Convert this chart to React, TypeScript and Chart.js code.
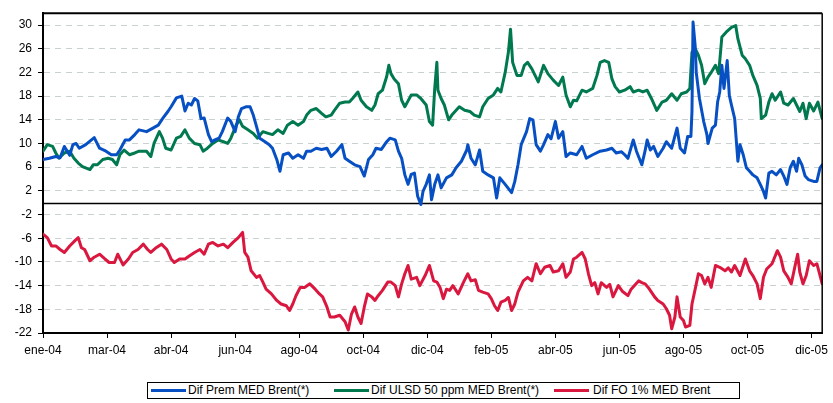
import { useEffect, useRef } from 'react';
import { Chart, registerables } from 'chart.js';

Chart.register(...registerables);

// Days since 1 Jan 2004 (x), spread in $/t (y)
const seriesNames = ['Dif Prem MED Brent(*)', 'Dif ULSD 50 ppm MED Brent(*)', 'Dif FO 1% MED Brent'];
const seriesColors = ['#0650c4', '#00794f', '#d9173f'];

const tickDays = [0, 60, 120, 180, 240, 300, 360, 420, 480, 540, 600, 660, 720];
const tickLabels = ['ene-04', 'mar-04', 'abr-04', 'jun-04', 'ago-04', 'oct-04', 'dic-04', 'feb-05', 'abr-05', 'jun-05', 'ago-05', 'oct-05', 'dic-05'];
const yTicks = [-22, -18, -14, -10, -6, -2, 2, 6, 10, 14, 18, 22, 26, 30];

const premDay = [0, 6, 12, 16, 20, 25, 28, 31, 34, 40, 48, 53, 59, 64, 69, 72, 77, 81, 86, 90, 97, 103, 108, 112, 117, 120, 125, 130, 133, 136, 139, 142, 145, 148, 151, 155, 158, 161, 165, 168, 173, 176, 180, 183, 186, 190, 194, 197, 200, 203, 208, 212, 215, 219, 222, 225, 230, 234, 239, 244, 247, 251, 256, 261, 266, 270, 275, 280, 283, 287, 292, 297, 301, 305, 309, 312, 317, 322, 325, 330, 333, 336, 339, 342, 345, 348, 351, 354, 356, 359, 362, 364, 367, 370, 373, 378, 383, 387, 392, 397, 398, 401, 405, 409, 412, 417, 422, 425, 428, 433, 439, 442, 445, 448, 453, 456, 459, 462, 466, 469, 473, 476, 480, 483, 487, 490, 494, 500, 505, 509, 515, 522, 528, 533, 537, 542, 545, 548, 553, 556, 561, 564, 566, 569, 572, 576, 581, 584, 589, 594, 597, 601, 604, 607, 608, 609, 611, 612, 615, 619, 622, 623, 627, 630, 632, 634, 636, 638, 641, 643, 645, 648, 651, 653, 656, 659, 662, 665, 669, 672, 675, 677, 680, 683, 687, 691, 694, 697, 700, 703, 706, 708, 711, 714, 717, 722, 725, 728, 730];
const premVal = [7.3, 7.5, 7.8, 7.6, 9.5, 8.0, 9.8, 10.0, 9.2, 9.8, 11.0, 9.2, 8.7, 8.1, 8.1, 8.9, 10.6, 10.6, 11.5, 12.3, 12.0, 12.6, 13.1, 14.2, 15.4, 16.2, 17.7, 18.0, 15.5, 16.8, 16.5, 17.6, 17.2, 14.2, 14.3, 11.5, 10.3, 10.6, 10.9, 12.0, 14.3, 13.7, 12.0, 14.5, 15.9, 16.2, 16.2, 14.8, 12.9, 10.9, 10.3, 9.8, 9.2, 7.3, 5.3, 8.1, 8.4, 7.5, 8.1, 7.5, 8.7, 8.7, 9.2, 9.0, 9.2, 7.8, 8.7, 9.8, 7.5, 7.0, 6.4, 6.1, 4.5, 7.3, 8.1, 9.2, 9.0, 10.3, 10.9, 10.6, 8.7, 7.5, 4.7, 3.1, 4.8, 5.0, 1.1, -0.3, 1.9, 3.1, 4.7, 0.5, 3.1, 4.7, 2.5, 4.2, 4.7, 5.9, 7.0, 8.9, 9.8, 7.5, 6.4, 8.9, 5.3, 4.7, 4.2, 0.8, 4.2, 3.1, 1.7, 3.6, 6.4, 9.8, 12.0, 14.2, 14.0, 9.8, 8.7, 9.8, 11.5, 10.8, 13.7, 10.9, 12.0, 7.8, 8.4, 8.1, 9.5, 7.5, 8.1, 8.7, 8.9, 9.2, 8.4, 8.6, 8.1, 7.5, 10.6, 8.7, 6.4, 8.7, 10.6, 8.9, 9.5, 7.8, 9.2, 10.3, 9.2, 12.6, 9.2, 8.4, 11.2, 11.2, 15.4, 30.5, 26.5, 22.0, 17.6, 13.7, 11.5, 10.0, 12.6, 13.1, 17.0, 18.7, 23.2, 19.3, 24.0, 18.1, 16.5, 14.2, 7.0, 9.8, 8.1, 5.9, 5.3, 4.7, 4.2, 3.1, 1.9, 0.8, 5.0, 5.3, 4.7, 5.6, 4.5, 3.1, 5.9, 7.0, 5.3, 7.5, 6.4, 4.5, 3.9, 3.6, 3.6, 5.9, 6.4];

const ulsdDay = [0, 4, 9, 12, 15, 20, 25, 29, 33, 37, 44, 47, 51, 56, 61, 65, 69, 72, 76, 81, 86, 90, 97, 101, 104, 109, 112, 115, 120, 125, 129, 133, 137, 142, 147, 150, 154, 159, 164, 169, 173, 176, 181, 184, 187, 192, 197, 201, 206, 211, 215, 220, 225, 229, 234, 239, 244, 247, 251, 256, 261, 265, 270, 273, 278, 283, 287, 290, 295, 298, 303, 308, 311, 314, 318, 322, 324, 326, 329, 333, 336, 339, 342, 345, 350, 354, 359, 362, 365, 367, 369, 370, 373, 376, 380, 383, 386, 390, 395, 400, 404, 409, 412, 417, 422, 426, 429, 433, 436, 438, 440, 444, 448, 451, 454, 458, 461, 464, 469, 473, 478, 483, 487, 490, 494, 497, 500, 505, 509, 515, 519, 522, 526, 530, 533, 536, 540, 545, 550, 553, 558, 562, 566, 570, 575, 580, 584, 589, 594, 598, 603, 606, 608, 611, 614, 617, 620, 623, 626, 630, 633, 636, 640, 645, 649, 651, 655, 658, 662, 665, 669, 672, 673, 677, 680, 683, 686, 691, 694, 698, 703, 706, 709, 712, 715, 718, 722, 726, 730];
const ulsdVal = [8.7, 9.8, 9.5, 8.4, 7.5, 8.4, 8.7, 7.5, 6.7, 6.1, 5.6, 6.4, 6.4, 7.3, 7.5, 7.3, 6.4, 8.1, 8.9, 8.1, 8.4, 8.7, 8.7, 7.8, 10.0, 12.0, 10.9, 9.2, 8.9, 10.9, 11.2, 12.3, 10.9, 10.0, 9.8, 8.7, 9.2, 10.0, 10.6, 10.3, 10.0, 10.9, 13.1, 14.0, 12.9, 12.3, 11.7, 10.9, 12.0, 11.7, 11.5, 12.3, 11.7, 13.1, 13.7, 13.1, 13.7, 14.8, 15.6, 15.9, 15.1, 14.5, 14.8, 15.6, 16.8, 17.0, 17.0, 17.6, 18.7, 17.3, 16.2, 15.6, 16.5, 18.4, 19.0, 21.3, 23.2, 21.8, 20.9, 20.1, 17.3, 16.2, 17.2, 18.2, 18.2, 17.6, 16.5, 13.7, 13.1, 19.3, 23.7, 19.0, 17.6, 16.5, 14.0, 14.8, 15.4, 16.2, 15.6, 15.4, 14.8, 14.5, 16.2, 17.6, 18.2, 19.3, 18.7, 22.0, 25.4, 29.3, 23.7, 21.5, 21.5, 23.2, 23.7, 22.6, 21.5, 20.4, 23.2, 21.8, 20.7, 19.8, 21.2, 18.2, 16.2, 17.3, 17.2, 19.0, 18.7, 19.3, 21.5, 23.7, 24.0, 23.7, 20.9, 19.6, 18.7, 19.0, 19.6, 18.7, 19.0, 18.7, 19.0, 17.6, 15.6, 17.0, 17.3, 18.4, 17.3, 18.4, 18.7, 19.3, 25.4, 26.0, 24.9, 23.2, 20.1, 21.2, 22.0, 23.2, 21.8, 28.0, 28.8, 29.6, 29.9, 27.7, 24.9, 24.3, 23.2, 21.5, 19.8, 17.6, 14.2, 14.8, 17.0, 18.4, 17.3, 18.7, 16.8, 16.5, 17.6, 16.5, 15.4, 16.8, 14.2, 16.8, 15.5, 17.0, 14.2];

const foDay = [0, 4, 8, 12, 16, 20, 25, 30, 33, 36, 39, 44, 48, 53, 58, 62, 67, 70, 75, 80, 84, 89, 94, 98, 101, 106, 111, 116, 120, 123, 128, 133, 137, 142, 147, 151, 155, 159, 164, 169, 173, 178, 183, 187, 189, 192, 195, 200, 203, 206, 209, 214, 219, 223, 228, 231, 234, 237, 241, 245, 250, 255, 259, 262, 266, 269, 273, 278, 283, 286, 289, 292, 295, 298, 301, 304, 308, 311, 314, 318, 323, 326, 330, 333, 336, 339, 342, 345, 350, 353, 358, 362, 366, 369, 372, 375, 378, 381, 384, 389, 394, 398, 401, 405, 408, 412, 417, 420, 423, 426, 429, 433, 436, 439, 442, 445, 450, 454, 458, 462, 466, 470, 475, 478, 483, 487, 490, 494, 497, 500, 505, 508, 511, 514, 517, 520, 523, 528, 531, 534, 539, 543, 548, 551, 555, 558, 561, 564, 567, 570, 573, 576, 581, 584, 587, 589, 592, 594, 597, 600, 602, 606, 608, 611, 614, 617, 620, 623, 626, 630, 634, 639, 642, 645, 648, 653, 658, 662, 665, 669, 672, 675, 678, 683, 688, 691, 694, 698, 701, 705, 707, 709, 712, 715, 718, 722, 725, 728, 730];
const foVal = [-5.3, -5.9, -7.3, -7.3, -7.9, -8.4, -7.3, -6.4, -5.9, -7.6, -7.9, -9.8, -9.2, -8.7, -9.5, -10.1, -10.1, -8.7, -10.5, -9.5, -8.4, -7.9, -7.0, -7.9, -8.4, -7.6, -7.0, -7.9, -9.5, -10.1, -9.5, -9.5, -9.0, -8.4, -7.9, -8.7, -7.0, -6.7, -7.3, -7.0, -7.6, -6.7, -5.9, -5.0, -8.4, -9.2, -11.5, -12.6, -12.3, -13.4, -14.6, -15.4, -16.5, -17.1, -17.4, -18.2, -17.1, -15.7, -14.3, -14.3, -13.7, -14.6, -15.4, -15.9, -17.6, -19.3, -19.3, -19.0, -20.1, -21.5, -18.8, -17.6, -19.3, -20.4, -17.6, -15.4, -15.9, -16.5, -15.7, -14.8, -13.4, -13.4, -14.0, -15.9, -13.7, -12.0, -10.6, -12.9, -12.6, -14.0, -12.3, -10.6, -13.2, -13.4, -14.3, -16.2, -14.6, -14.8, -14.0, -15.4, -13.4, -12.0, -13.2, -13.0, -14.8, -15.1, -15.4, -16.2, -17.4, -18.2, -16.8, -16.5, -16.0, -18.2, -17.1, -15.1, -13.2, -12.6, -13.2, -10.3, -12.0, -10.9, -10.6, -11.7, -11.5, -10.3, -12.6, -11.7, -9.5, -9.2, -8.4, -9.5, -12.0, -14.0, -13.5, -15.4, -13.5, -14.3, -13.8, -15.9, -14.0, -15.0, -15.7, -14.6, -13.8, -13.2, -13.5, -13.7, -14.3, -15.1, -15.9, -16.5, -17.1, -17.9, -19.0, -21.3, -19.3, -15.9, -19.3, -19.9, -21.0, -20.7, -17.1, -14.6, -12.0, -12.3, -13.7, -12.6, -14.3, -10.6, -10.9, -11.5, -11.0, -11.7, -10.6, -12.3, -9.5, -11.5, -12.3, -13.7, -16.2, -12.6, -11.2, -10.3, -8.1, -9.2, -11.5, -12.6, -13.7, -10.3, -8.7, -11.7, -13.7, -12.3, -9.8, -10.6, -10.3, -12.3, -13.7];

const toPoints = (days: number[], vals: number[]) => days.map((d, i) => ({ x: d, y: vals[i] }));

const framePlugin = {
  id: 'frame',
  beforeDatasetsDraw(chart: any) {
    const { ctx, chartArea, scales } = chart;
    const y0 = Math.round(scales.y.getPixelForValue(0)) + 0.5;
    ctx.save();
    ctx.strokeStyle = '#000';
    ctx.lineWidth = 1.5;
    ctx.beginPath();
    ctx.moveTo(chartArea.left, y0);
    ctx.lineTo(chartArea.right, y0);
    ctx.stroke();
    ctx.restore();
  },
  afterDatasetsDraw(chart: any) {
    const { ctx, chartArea } = chart;
    ctx.save();
    ctx.strokeStyle = '#000';
    ctx.lineWidth = 2;
    ctx.beginPath();
    ctx.moveTo(chartArea.left, chartArea.top);
    ctx.lineTo(chartArea.right, chartArea.top);
    ctx.stroke();
    ctx.lineWidth = 1.5;
    ctx.beginPath();
    ctx.moveTo(chartArea.right, chartArea.top);
    ctx.lineTo(chartArea.right, chartArea.bottom);
    ctx.stroke();
    ctx.restore();
  },
};

export default function App() {
  const canvasRef = useRef<HTMLCanvasElement | null>(null);

  useEffect(() => {
    document.body.style.margin = '0';
    const canvas = canvasRef.current;
    if (!canvas) return;
    const font = { family: "'Liberation Sans', Arial, sans-serif", size: 12 };
    const dataSets = [
      toPoints(premDay, premVal),
      toPoints(ulsdDay, ulsdVal),
      toPoints(foDay, foVal),
    ];
    const chart = new Chart(canvas, {
      type: 'line',
      data: {
        datasets: dataSets.map((pts, i) => ({
          label: seriesNames[i],
          data: pts,
          borderColor: seriesColors[i],
          backgroundColor: seriesColors[i],
          borderWidth: 3,
          pointRadius: 0,
          tension: 0,
          borderJoinStyle: 'round' as const,
          borderCapStyle: 'round' as const,
        })),
      },
      options: {
        animation: false,
        responsive: false,
        devicePixelRatio: 1,
        parsing: false as any,
        layout: { padding: { top: 11, right: 10, bottom: 40, left: 0 } },
        plugins: { legend: { display: false }, tooltip: { enabled: false } },
        scales: {
          x: {
            type: 'linear',
            min: 0,
            max: 730,
            afterBuildTicks: (scale: any) => {
              scale.ticks = tickDays.map((v) => ({ value: v }));
            },
            afterFit: (scale: any) => {
              scale.height = 30;
            },
            grid: {
              drawOnChartArea: false,
              drawTicks: true,
              tickLength: 5,
              tickColor: '#000',
              tickWidth: 1,
            },
            border: { display: true, color: '#000', width: 2 },
            ticks: {
              autoSkip: false,
              maxRotation: 0,
              padding: 5,
              color: '#000',
              font,
              callback: (value: any) => {
                const idx = tickDays.indexOf(Number(value));
                return idx >= 0 ? tickLabels[idx] : '';
              },
            },
          },
          y: {
            type: 'linear',
            min: -22,
            max: 32,
            afterBuildTicks: (scale: any) => {
              scale.ticks = yTicks.map((v) => ({ value: v }));
            },
            afterFit: (scale: any) => {
              scale.width = 43;
            },
            grid: {
              color: '#c9d1d1',
              lineWidth: 1,
              drawTicks: true,
              tickLength: 5,
              tickColor: '#000',
              tickWidth: 1,
              tickBorderDash: [],
            },
            border: { display: true, color: '#000', width: 2, dash: [6, 5] },
            ticks: {
              padding: 6,
              color: '#000',
              font,
              callback: (value: any) => String(value),
            },
          },
        },
      },
      plugins: [framePlugin],
    });
    return () => chart.destroy();
  }, []);

  const legendItems = [
    { line: 3, text: 40 },
    { line: 186, text: 223 },
    { line: 406, text: 445 },
  ];

  return (
    <div style={{ position: 'relative', width: 833, height: 403, background: '#fff' }}>
      <canvas ref={canvasRef} width={833} height={403} style={{ display: 'block' }} />
      <div
        style={{
          position: 'absolute',
          left: 147,
          top: 382,
          width: 593,
          height: 17,
          border: '1px solid #000',
          boxSizing: 'border-box',
          fontFamily: "'Liberation Sans', Arial, sans-serif",
          fontSize: 12,
          color: '#000',
          background: '#fff',
        }}
      >
        {seriesNames.map((name, i) => (
          <div key={name}>
            <div
              style={{
                position: 'absolute',
                left: legendItems[i].line,
                top: 6,
                width: 35,
                height: 3,
                background: seriesColors[i],
              }}
            />
            <div
              style={{
                position: 'absolute',
                left: legendItems[i].text,
                top: 0,
                lineHeight: '15px',
                whiteSpace: 'nowrap',
              }}
            >
              {name}
            </div>
          </div>
        ))}
      </div>
    </div>
  );
}
